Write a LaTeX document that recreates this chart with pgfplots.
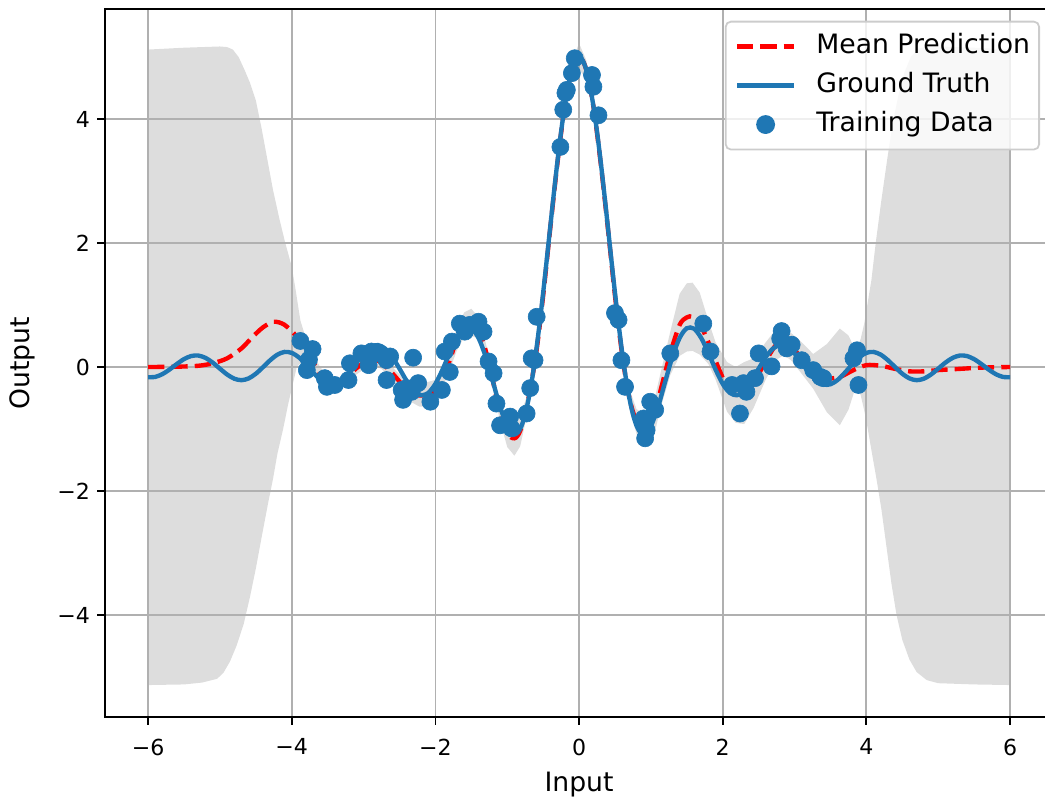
\documentclass[border=0pt]{standalone}
\usepackage{fontspec}
\setmainfont{DejaVu Sans}
\usepackage{pgfplots}
\pgfplotsset{compat=1.18}
\definecolor{tblue}{HTML}{1F77B4}
\definecolor{bandc}{RGB}{221,221,221}
\definecolor{gridc}{HTML}{B0B0B0}
\definecolor{legedge}{HTML}{CCCCCC}
\begin{document}
\begin{tikzpicture}
\begin{axis}[
  name=ax, scale only axis, width=455.1pt, height=339.7pt,
  xmin=-6.6, xmax=6.6, ymin=-5.645, ymax=5.77,
  set layers=standard,
  grid=major, grid style={gridc, line width=0.85pt},
  axis line style={line width=0.85pt},
  tick align=outside, major tick length=3.7pt,
  tick style={black, line width=0.85pt},
  tick pos=left,
  tick label style={font=\fontsize{10.6}{12}\selectfont},
  xticklabel style={yshift=-3.2pt},
  xtick={-6,-4,-2,0,2,4,6}, xticklabels={−6,−4,−2,0,2,4,6},
  ytick={-4,-2,0,2,4}, yticklabels={−4,−2,0,2,4},
  every axis x label/.style={at={(axis description cs:0.5,0)}, yshift=-36pt, anchor=base, font=\fontsize{12.8}{15}\selectfont},
  every axis y label/.style={at={(axis description cs:0,0.5)}, xshift=-36pt, rotate=90, anchor=base, font=\fontsize{12.8}{15}\selectfont},
  xlabel={Input}, ylabel={Output},
  legend cell align=left,
  legend image code/.code={\draw[mark repeat=2,mark phase=2,#1] plot coordinates {(0pt,0pt) (13.7pt,0pt) (27.4pt,0pt)};},
  legend style={at={(rel axis cs:1,1)}, anchor=north east, xshift=-6.3pt, yshift=-5.5pt,
    draw=legedge, line width=0.85pt, fill=white, fill opacity=0.8, text opacity=1,
    rounded corners=2.5pt, inner xsep=4.4pt, inner ysep=5.6pt, row sep=5.9pt, column sep=9.6pt,
    font=\fontsize{12.8}{15}\selectfont,
    nodes={inner sep=0pt, text height=9.7pt, text depth=3.1pt}},
]
% uncertainty band (upper left to right, lower right to left)
\addplot[on layer=axis background, fill=bandc, draw=none, forget plot] coordinates {
(-6,5.12) (-5.5,5.15) (-5.0,5.17) (-4.9,5.16) (-4.82,5.12) (-4.74,5.0) (-4.66,4.8) (-4.58,4.58) (-4.5,4.3) (-4.42,3.85) (-4.34,3.35) (-4.26,2.85) (-4.17,2.38) (-4.09,2.0) (-4.0,1.62) (-3.94,1.2) (-3.88,0.75) (-3.8,0.45)
(-3.7,0.20) (-3.6,-0.01) (-3.47,-0.16) (-3.35,-0.18) (-3.23,-0.08) (-3.1,0.08) (-2.95,0.20) (-2.85,0.22) (-2.75,0.17) (-2.6,0.00) (-2.45,-0.18) (-2.33,-0.27) (-2.22,-0.28) (-2.1,-0.24) (-1.98,-0.20) (-1.84,0.13) (-1.7,0.63) (-1.6,0.88) (-1.5,0.94) (-1.42,0.83) (-1.32,0.49) (-1.22,0.00) (-1.1,-0.57) (-1.0,-0.85) (-0.9,-0.87) (-0.82,-0.78) (-0.72,-0.45) (-0.6,0.30) (-0.5,1.25) (-0.4,2.35) (-0.3,3.40) (-0.2,4.30) (-0.1,4.93) (0,5.22) (0.1,4.95) (0.2,4.32) (0.3,3.42) (0.4,2.37) (0.5,1.27) (0.6,0.32) (0.7,-0.35) (0.8,-0.68) (0.9,-0.75) (0.95,-0.70) (1.05,-0.52) (1.13,-0.12) (1.27,0.57) (1.4,1.18) (1.5,1.35) (1.58,1.36) (1.68,1.20) (1.8,0.75) (1.9,0.40) (2.06,0.08) (2.18,0.00) (2.3,0.08) (2.43,0.14) (2.6,0.40) (2.75,0.62) (2.85,0.63) (2.95,0.55) (3.08,0.42) (3.26,0.21) (3.45,0.37) (3.63,0.62) (3.75,0.51) (3.85,0.27) (3.92,0.45) (3.97,0.7) (4.02,1.05) (4.07,1.4) (4.13,2.0) (4.21,2.7) (4.29,3.35) (4.37,3.95) (4.45,4.4) (4.53,4.75) (4.62,5.0) (4.72,5.13) (4.85,5.17) (5.0,5.17) (5.5,5.15) (6.0,5.12)
(6.0,-5.13) (5.5,-5.12) (5.0,-5.1) (4.84,-5.05) (4.7,-4.92) (4.6,-4.72) (4.5,-4.4) (4.42,-4.0) (4.35,-3.5) (4.28,-2.9) (4.21,-2.3) (4.14,-1.8) (4.07,-1.34) (4.02,-1.0) (3.97,-0.7) (3.92,-0.45) (3.85,-0.33) (3.75,-0.69) (3.63,-0.94) (3.45,-0.73) (3.26,-0.35) (3.08,-0.08) (2.95,0.11) (2.85,0.19) (2.75,0.12) (2.6,-0.20) (2.43,-0.66) (2.3,-0.92) (2.18,-0.90) (2.06,-0.72) (1.9,-0.20) (1.8,0.05) (1.68,0.20) (1.58,0.26) (1.5,0.25) (1.4,0.18) (1.27,-0.13) (1.13,-0.68) (1.05,-1.08) (0.95,-1.26) (0.9,-1.25) (0.8,-1.08) (0.7,-0.65) (0.6,0.08) (0.5,1.03) (0.4,2.13) (0.3,3.18) (0.2,4.08) (0.1,4.65) (0,4.80) (-0.1,4.63) (-0.2,4.10) (-0.3,3.20) (-0.4,2.15) (-0.5,1.05) (-0.6,0.10) (-0.72,-0.75) (-0.82,-1.28) (-0.9,-1.43) (-1.0,-1.29) (-1.1,-0.87) (-1.22,-0.24) (-1.32,0.21) (-1.42,0.47) (-1.5,0.50) (-1.6,0.48) (-1.7,0.27) (-1.84,-0.17) (-1.98,-0.50) (-2.1,-0.64) (-2.22,-0.64) (-2.33,-0.57) (-2.45,-0.42) (-2.6,-0.20) (-2.75,-0.03) (-2.85,0.02) (-2.95,0.00) (-3.1,-0.12) (-3.23,-0.28) (-3.35,-0.38) (-3.47,-0.40) (-3.6,-0.25) (-3.7,-0.06) (-3.8,0.11) (-3.88,0.06) (-3.93,0.0) (-3.98,-0.25) (-4.05,-0.6) (-4.12,-1.0) (-4.2,-1.4) (-4.26,-1.8) (-4.33,-2.2) (-4.42,-2.75) (-4.5,-3.25) (-4.58,-3.7) (-4.67,-4.15) (-4.77,-4.5) (-4.86,-4.75) (-4.95,-4.93) (-5.04,-5.03) (-5.25,-5.09) (-5.5,-5.12) (-6,-5.13)
} -- cycle;
% training data
\addplot[only marks, mark=*, mark size=4.1pt, color=tblue, mark options={line width=0.3pt}, forget plot] coordinates {
(-3.88,0.42) (-3.71,0.29) (-3.79,-0.05) (-3.76,0.12) (-3.54,-0.18) (-3.51,-0.32) (-3.40,-0.29) (-3.21,-0.21) (-3.19,0.06)
(-3.03,0.22) (-2.93,0.03) (-2.89,0.25) (-2.82,0.22) (-2.68,0.11) (-2.63,0.17) (-2.68,-0.21) (-2.47,-0.37) (-2.45,-0.53)
(-2.31,0.15) (-2.33,-0.40) (-2.24,-0.26) (-2.40,-0.34) (-2.07,-0.56) (-1.91,-0.37) (-1.80,-0.08) (-1.87,0.25) (-1.77,0.41)
(-1.66,0.70) (-1.59,0.57) (-1.52,0.68) (-1.40,0.73) (-1.33,0.57) (-1.26,0.09) (-1.19,-0.10) (-1.15,-0.59) (-1.10,-0.94)
(-0.96,-0.80) (-0.94,-0.99) (-0.73,-0.75) (-0.68,-0.34) (-0.66,0.14) (-0.62,0.11) (-0.59,0.81)
(-0.26,3.55) (-0.22,4.15) (-0.19,4.42) (-0.17,4.47) (-0.10,4.74) (-0.06,4.98) (0.18,4.71) (0.20,4.52) (0.27,4.06)
(0.50,0.87) (0.55,0.76) (0.59,0.11) (0.64,-0.32) (0.90,-0.83) (0.94,-1.02) (0.92,-1.15) (0.99,-0.56) (1.06,-0.69)
(1.27,0.22) (1.73,0.70) (1.83,0.25) (2.13,-0.29) (2.29,-0.26) (2.33,-0.40) (2.45,-0.18) (2.24,-0.75) (2.50,0.22)
(2.68,0.01) (2.82,0.58) (2.80,0.46) (2.89,0.30) (2.96,0.36) (3.10,0.11) (3.26,-0.05) (3.36,-0.16) (3.40,-0.18)
(3.87,0.27) (3.82,0.14) (3.89,-0.29)
};
% mean prediction
\addplot[red, line width=2.1pt, dash pattern=on 7.8pt off 3.4pt, smooth, forget plot] coordinates {
(-6.0,0.00) (-5.6,0.005) (-5.3,0.02) (-5.1,0.06) (-4.9,0.14) (-4.7,0.30) (-4.55,0.48) (-4.4,0.64) (-4.25,0.73) (-4.1,0.68)
(-3.93,0.49) (-3.8,0.28) (-3.7,0.07) (-3.6,-0.13) (-3.47,-0.28) (-3.35,-0.28) (-3.23,-0.18) (-3.1,-0.02) (-2.95,0.10)
(-2.85,0.12) (-2.75,0.07) (-2.6,-0.10) (-2.45,-0.30) (-2.33,-0.42) (-2.22,-0.46) (-2.1,-0.44) (-1.98,-0.35) (-1.84,-0.02)
(-1.7,0.45) (-1.6,0.68) (-1.5,0.72) (-1.42,0.65) (-1.32,0.35) (-1.22,-0.12) (-1.1,-0.72) (-1.0,-1.07) (-0.9,-1.15)
(-0.82,-1.03) (-0.72,-0.60) (-0.6,0.20) (-0.5,1.15) (-0.4,2.25) (-0.3,3.30) (-0.2,4.20) (-0.1,4.78) (0,5.00) (0.1,4.80)
(0.2,4.20) (0.3,3.30) (0.4,2.25) (0.5,1.15) (0.6,0.20) (0.7,-0.50) (0.8,-0.88) (0.9,-1.00) (0.95,-0.98) (1.05,-0.80)
(1.13,-0.40) (1.27,0.22) (1.4,0.68) (1.5,0.80) (1.58,0.81) (1.68,0.70) (1.8,0.40) (1.9,0.10) (2.06,-0.32) (2.18,-0.45)
(2.3,-0.42) (2.43,-0.26) (2.6,0.10) (2.75,0.37) (2.85,0.41) (2.95,0.33) (3.08,0.17) (3.26,-0.07) (3.45,-0.18) (3.63,-0.16)
(3.82,-0.05) (4.0,0.03) (4.2,0.02) (4.4,-0.03) (4.6,-0.07) (4.8,-0.07) (5.0,-0.05) (5.3,-0.03) (5.6,-0.01) (6.0,0.00)
};
% ground truth
\addplot[tblue, line width=2.1pt, smooth, forget plot] coordinates {
(-6.0,-0.16467) (-5.9,-0.15944) (-5.8,-0.11442) (-5.7,-0.03926) (-5.6,0.04838) (-5.5,0.12714) (-5.4,0.17711) (-5.3,0.18478)
(-5.2,0.14665) (-5.1,0.07040) (-5.0,-0.02647) (-4.9,-0.12069) (-4.8,-0.18866) (-4.7,-0.21230) (-4.6,-0.18396) (-4.5,-0.10826)
(-4.4,-0.00201) (-4.3,0.10968) (-4.2,0.19920) (-4.1,0.24313) (-4.0,0.22824) (-3.9,0.15527) (-3.8,0.03944) (-3.7,-0.09256)
(-3.6,-0.20861) (-3.5,-0.27875) (-3.4,-0.28276) (-3.3,-0.21569) (-3.2,-0.08997) (-3.1,0.06660) (-3.0,0.21676) (-2.9,0.32238)
(-2.8,0.35379) (-2.7,0.29770) (-2.6,0.16160) (-2.5,-0.02653) (-2.4,-0.22357) (-2.3,-0.38073) (-2.2,-0.45454) (-2.1,-0.41890)
(-2.0,-0.27201) (-1.9,-0.03955) (-1.8,0.22895) (-1.7,0.46970) (-1.6,0.61835) (-1.5,0.62533) (-1.4,0.46928) (-1.3,0.16548)
(-1.2,-0.23285) (-1.1,-0.64140) (-1.0,-0.95892) (-0.95,-1.05189) (-0.9,-1.08614) (-0.85,-1.05293) (-0.8,-0.94600)
(-0.75,-0.76208) (-0.7,-0.50112) (-0.65,-0.16645) (-0.6,0.23520) (-0.55,0.69393) (-0.5,1.19694) (-0.45,1.72905)
(-0.4,2.27324) (-0.35,2.81139) (-0.3,3.32498) (-0.25,3.79594) (-0.2,4.20735) (-0.15,4.54426) (-0.1,4.79426) (-0.05,4.94808)
(0,5.00000)
(0.05,4.94808) (0.1,4.79426) (0.15,4.54426) (0.2,4.20735) (0.25,3.79594) (0.3,3.32498) (0.35,2.81139) (0.4,2.27324)
(0.45,1.72905) (0.5,1.19694) (0.55,0.69393) (0.6,0.23520) (0.65,-0.16645) (0.7,-0.50112) (0.75,-0.76208) (0.8,-0.94600)
(0.85,-1.05293) (0.9,-1.08614) (0.95,-1.05189) (1.0,-0.95892) (1.1,-0.64140) (1.2,-0.23285) (1.3,0.16548) (1.4,0.46928)
(1.5,0.62533) (1.6,0.61835) (1.7,0.46970) (1.8,0.22895) (1.9,-0.03955) (2.0,-0.27201) (2.1,-0.41890) (2.2,-0.45454)
(2.3,-0.38073) (2.4,-0.22357) (2.5,-0.02653) (2.6,0.16160) (2.7,0.29770) (2.8,0.35379) (2.9,0.32238) (3.0,0.21676)
(3.1,0.06660) (3.2,-0.08997) (3.3,-0.21569) (3.4,-0.28276) (3.5,-0.27875) (3.6,-0.20861) (3.7,-0.09256) (3.8,0.03944)
(3.9,0.15527) (4.0,0.22824) (4.1,0.24313) (4.2,0.19920) (4.3,0.10968) (4.4,-0.00201) (4.5,-0.10826) (4.6,-0.18396)
(4.7,-0.21230) (4.8,-0.18866) (4.9,-0.12069) (5.0,-0.02647) (5.1,0.07040) (5.2,0.14665) (5.3,0.18478) (5.4,0.17711)
(5.5,0.12714) (5.6,0.04838) (5.7,-0.03926) (5.8,-0.11442) (5.9,-0.15944) (6.0,-0.16467)
};
\addlegendimage{red, line width=2.1pt, dash pattern=on 7.8pt off 3.4pt}
\addlegendentry{Mean Prediction}
\addlegendimage{tblue, line width=2.1pt}
\addlegendentry{Ground Truth}
\addlegendimage{only marks, mark=*, mark size=4.1pt, tblue, fill opacity=1, draw opacity=1}
\addlegendentry{Training Data}
\end{axis}
\pgfresetboundingbox
\useasboundingbox ([xshift=-50.4pt,yshift=-40.8pt]ax.south west) rectangle ++(501.6pt,384.96pt);
\end{tikzpicture}
\end{document}
